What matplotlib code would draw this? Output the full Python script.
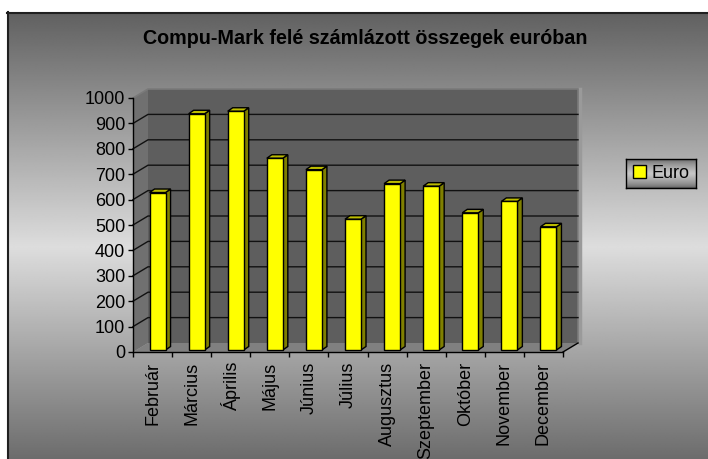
import numpy as np
import matplotlib
matplotlib.use("Agg")
import matplotlib.pyplot as plt
from matplotlib.patches import Polygon, Rectangle, Patch

plt.rcParams['font.family'] = ['Liberation Sans', 'DejaVu Sans']

# ---- data ----
title = "Compu-Mark felé számlázott összegek euróban"
months = ["Február", "Március", "Április", "Május", "Június", "Július",
          "Augusztus", "Szeptember", "Október", "November", "December"]
euro = [620, 930, 940, 755, 710, 515, 655, 645, 540, 585, 485]
series_name = "Euro"
yticks = list(range(0, 1001, 100))

# ---- figure ----
W, H, DPI = 708, 459, 100
fig = plt.figure(figsize=(W / DPI, H / DPI), dpi=DPI)

# background gradient (chart area) with white margin and black border top/left
bg = fig.add_axes([0, 0, 1, 1], zorder=-10)
bg.set_xlim(0, W); bg.set_ylim(H, 0); bg.axis('off')
yy = np.arange(12, H + 1)
dark, light = 0x60 / 255, 0xdd / 255
frac = np.clip(1 - np.abs(yy - 247) / 235.0, 0, 1)
col = dark + (light - dark) * frac
grad = np.repeat(col[:, None], 2, axis=1)
bg.imshow(grad, cmap='gray', vmin=0, vmax=1, aspect='auto',
          extent=[7, W, H, 12], interpolation='bilinear')
bg.plot([7, W], [12.5, 12.5], color='#202020', lw=1.5)
bg.plot([7.5, 7.5], [12, H], color='#202020', lw=1.5)

# main axes = front plane
x0p, x1p, y0p, y1p = 133, 563, 352, 98
ax = fig.add_axes([x0p / W, (H - y0p) / H, (x1p - x0p) / W, (y0p - y1p) / H])
ax.set_facecolor('none')
n = len(months)
ax.set_xlim(-0.5, n - 0.5)
ax.set_ylim(0, 1000)
px_cat = (x1p - x0p) / n
px_val = (y0p - y1p) / 1000.0

# wall depth
dxw, dyw = 15 / px_cat, 9 / px_val
L, R = -0.5, n - 0.5
back = Rectangle((L + dxw, dyw), R - L, 1000, facecolor='#5e5e5e',
                 edgecolor='none', zorder=1, clip_on=False)
ax.add_patch(back)
side = Polygon([(L, 0), (L, 1000), (L + dxw, 1000 + dyw), (L + dxw, dyw)],
               closed=True, facecolor='#707070', edgecolor='none', zorder=1, clip_on=False)
ax.add_patch(side)
floor = Polygon([(L, 0), (R, 0), (R + dxw, dyw), (L + dxw, dyw)],
                closed=True, facecolor='#808080', edgecolor='none', zorder=1.5, clip_on=False)
ax.add_patch(floor)
# edges of walls
ax.plot([L, L + dxw, R + dxw, R + dxw], [1000, 1000 + dyw, 1000 + dyw, dyw],
        color='#7a7a7a', lw=1.2, zorder=1.2, clip_on=False)
ax.plot([R + dxw + 0.04, R + dxw + 0.04], [dyw, 1000 + dyw], color='#9a9a9a',
        lw=2.5, zorder=1.1, clip_on=False)
ax.plot([R, R + dxw], [0, dyw], color='black', lw=1, zorder=2, clip_on=False)
for v in yticks[1:-1]:
    ax.plot([L, L + dxw, R + dxw], [v, v + dyw, v + dyw], color='#111111',
            lw=1, zorder=1.3, clip_on=False)

# bars
w = 16 / px_cat
bfx, bfy = 5 / px_cat, 2 / px_val
bdx, bdy = 5 / px_cat, 3.5 / px_val
xs = np.arange(n)
for i, v in enumerate(euro):
    xl = xs[i] + bfx - w / 2
    top = v + bfy
    ax.add_patch(Polygon([(xl + w, bfy), (xl + w + bdx, bfy + bdy),
                          (xl + w + bdx, top + bdy), (xl + w, top)],
                         closed=True, facecolor='#808000', edgecolor='black',
                         lw=1, zorder=4, clip_on=False))
    ax.add_patch(Polygon([(xl, top), (xl + bdx, top + bdy),
                          (xl + w + bdx, top + bdy), (xl + w, top)],
                         closed=True, facecolor='#bcbc00', edgecolor='black',
                         lw=1, zorder=4, clip_on=False))
ax.bar(xs + bfx, euro, width=w, bottom=bfy, color='#ffff00', edgecolor='black',
       linewidth=1, zorder=5, clip_on=False)

# axes styling
for s in ['top', 'right']:
    ax.spines[s].set_visible(False)
for s in ['left', 'bottom']:
    ax.spines[s].set_color('black')
    ax.spines[s].set_linewidth(1)
    ax.spines[s].set_zorder(6)
ax.set_yticks(yticks)
ax.set_yticklabels([str(t) for t in yticks])
ax.tick_params(axis='y', direction='out', length=3.6, width=1, pad=2,
               labelsize=13, colors='black')
ax.set_xticks(xs)
ax.set_xticklabels(months, rotation=90, va='top', ha='center')
ax.tick_params(axis='x', which='major', length=0, pad=7, labelsize=13)
ax.set_xticks(np.arange(n + 1) - 0.5, minor=True)
ax.tick_params(axis='x', which='minor', direction='out', length=3.6, width=1)

fig.text(365 / W, 1 - 39 / H, title, ha='center', va='center',
         fontsize=14.2, fontweight='bold', color='black')

# legend with gradient box
lx0, ly0, lx1, ly1 = 626, 159, 696, 188
lax = fig.add_axes([lx0 / W, (H - ly1) / H, (lx1 - lx0) / W, (ly1 - ly0) / H], zorder=5)
ly = np.linspace(0, 1, 30)
lg = 0x60 / 255 + (0xc8 / 255 - 0x60 / 255) * (1 - np.abs(ly - 0.5) * 2) ** 0.6
lax.imshow(np.repeat(lg[:, None], 2, axis=1), cmap='gray', vmin=0, vmax=1,
           aspect='auto', extent=[0, 1, 0, 1], interpolation='bilinear')
lax.set_xlim(0, 1); lax.set_ylim(0, 1)
lax.set_xticks([]); lax.set_yticks([])
for s in lax.spines.values():
    s.set_color('black'); s.set_linewidth(1)
lax.legend([Patch(facecolor='#ffff00', edgecolor='black', linewidth=1)],
           [series_name], loc='center', frameon=False, fontsize=13,
           handlelength=0.7, handleheight=0.7, handletextpad=0.3,
           borderpad=0, borderaxespad=0)

fig.savefig('out.png', dpi=DPI)
